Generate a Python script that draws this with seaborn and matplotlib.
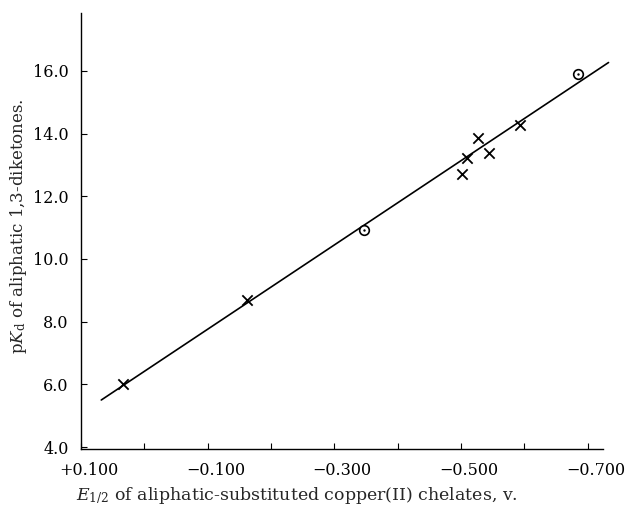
import matplotlib
matplotlib.use("Agg")
import matplotlib.pyplot as plt
import matplotlib.transforms as mtransforms
import seaborn as sns
import pandas as pd

# Data (E1/2 in volts, pKd)
cross_e = [0.034, -0.162, -0.501, -0.509, -0.527, -0.545, -0.593]
cross_pk = [6.01, 8.69, 12.70, 13.23, 13.85, 13.39, 14.28]
circle_e = [-0.347, -0.685]
circle_pk = [10.93, 15.90]
fit_e = [0.068, -0.733]
fit_pk = [5.50, 16.27]

x_ticks = [0.1, 0.0, -0.1, -0.2, -0.3, -0.4, -0.5, -0.6, -0.7]
x_labels = ["+0.100", "", "\u22120.100", "", "\u22120.300", "", "\u22120.500", "", "\u22120.700"]
y_ticks = [4.0, 6.0, 8.0, 10.0, 12.0, 14.0, 16.0]

sns.set_style("ticks")
plt.rcParams["font.family"] = ["DejaVu Serif"]
plt.rcParams["mathtext.fontset"] = "dejavuserif"

crosses = pd.DataFrame({"e": cross_e, "pk": cross_pk})
circles = pd.DataFrame({"e": circle_e, "pk": circle_pk})
fit = pd.DataFrame({"e": fit_e, "pk": fit_pk})

fig = plt.figure(figsize=(6.26, 5.08), dpi=100)
ax = fig.add_axes([0.1294, 0.1161, 0.8339, 0.8583])

sns.lineplot(data=fit, x="e", y="pk", color="black", linewidth=1.2,
             sort=False, ax=ax, clip_on=False)
sns.scatterplot(data=crosses, x="e", y="pk", marker="x", s=55, color="black",
                linewidth=1.3, ax=ax, zorder=3)
sns.scatterplot(data=circles, x="e", y="pk", marker="o", s=48, facecolor="white",
                edgecolor="black", linewidth=1.2, ax=ax, zorder=3)
sns.scatterplot(data=circles, x="e", y="pk", marker="o", s=3, color="black",
                linewidth=0, ax=ax, zorder=4)

ax.set_xlim(0.1, -0.7243)
ax.set_ylim(3.936, 17.85)
ax.set_xticks(x_ticks)
ax.set_xticklabels(x_labels)
ax.set_yticks(y_ticks)
ax.set_yticklabels([f"{v:.1f}" for v in y_ticks])
ax.tick_params(direction="in", length=4, width=0.8, labelsize=11.5, colors="black")
ax.tick_params(axis="x", pad=9)
ax.tick_params(axis="y", pad=9)

# the printed labels sit a little right of their ticks
shift = mtransforms.ScaledTranslation(0.08, 0, fig.dpi_scale_trans)
for lbl in ax.get_xticklabels():
    lbl.set_transform(lbl.get_transform() + shift)

for s in ["left", "bottom"]:
    ax.spines[s].set_linewidth(1.0)
    ax.spines[s].set_color("black")
sns.despine(ax=ax)

ax.set_xlabel(r"$E_{1/2}$ of aliphatic-substituted copper(II) chelates, v.",
              fontsize=12.5)
ax.xaxis.set_label_coords(0.414, -0.083)
ax.set_ylabel(r"p$K_{\rm d}$ of aliphatic 1,3-diketones.", fontsize=12)
ax.yaxis.set_label_coords(-0.10, 0.51)

fig.savefig("out.png", dpi=100)
